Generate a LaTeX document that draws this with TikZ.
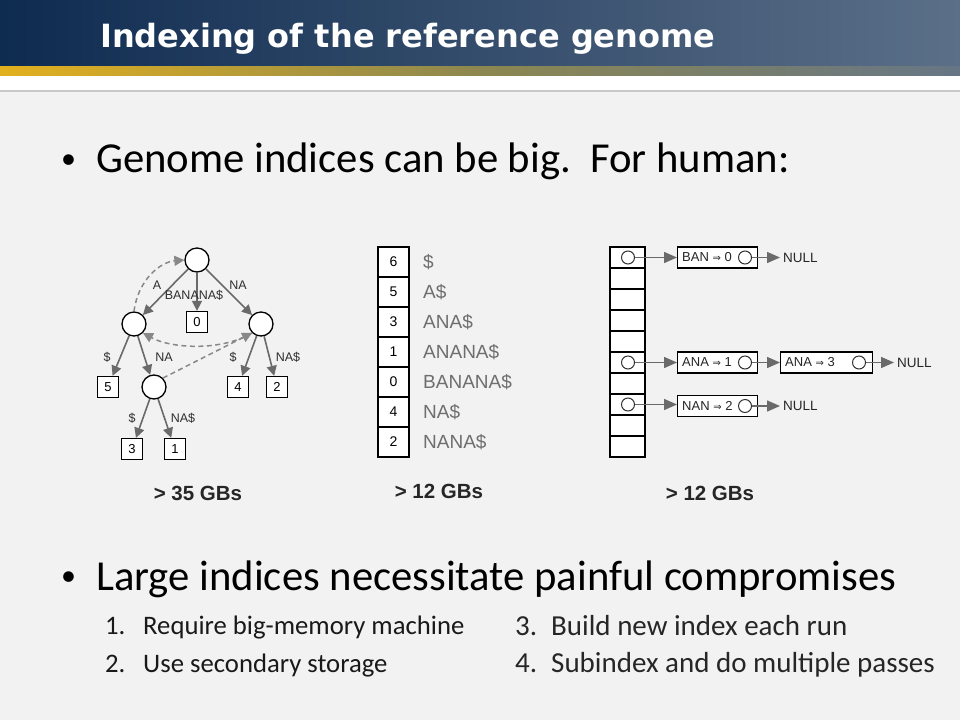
\documentclass[tikz,border=0pt]{standalone}
\usepackage{fontspec}
\setmainfont{Carlito}
\newfontfamily\helv{Liberation Sans}
\newfontfamily\titlefont{DejaVu Sans}
\newfontfamily\symfont{DejaVu Sans}
\usetikzlibrary{arrows.meta}
\definecolor{bg}{HTML}{F2F2F2}
\definecolor{navy}{HTML}{0E2B50}
\definecolor{slate}{HTML}{5B6F88}
\definecolor{gold}{HTML}{E2B01E}
\definecolor{goldmid}{HTML}{8C8750}
\definecolor{goldend}{HTML}{667686}
\definecolor{edgegray}{HTML}{6A6A6A}
\definecolor{labgray}{HTML}{2E2E2E}
\definecolor{sufgray}{HTML}{6E6E6E}
\definecolor{gbtext}{HTML}{262626}
\definecolor{rule}{HTML}{C8C8C8}
\tikzset{
  tnode/.style={circle, draw=black, fill=white, line width=1.3pt, minimum size=24pt, inner sep=0pt},
  leaf/.style={rectangle, draw=black, fill=white, line width=1.3pt, minimum width=21pt, minimum height=21pt, inner sep=0pt, font=\helv\fontsize{13}{13}\selectfont},
  tedge/.style={draw=edgegray, line width=1.6pt, -{Triangle[length=10pt,width=10pt]}},
  sedge/.style={draw=edgegray!80, line width=1.5pt, dash pattern=on 5pt off 3.5pt, -{Triangle[length=10pt,width=10pt]}},
  elabel/.style={font=\helv\fontsize{12.5}{12.5}\selectfont, text=labgray, inner sep=0pt},
  sacell/.style={rectangle, draw=black, fill=white, line width=1.3pt, minimum width=31pt, minimum height=30pt, inner sep=0pt, font=\helv\fontsize{14}{14}\selectfont},
  satext/.style={anchor=west, font=\helv\fontsize{19}{19}\selectfont, text=sufgray, inner sep=0pt},
  htcell/.style={rectangle, draw=black, fill=white, line width=1.3pt, minimum width=35pt, minimum height=21pt, inner sep=0pt},
  ptr/.style={circle, draw=black!80, fill=white, line width=1pt, minimum size=13pt, inner sep=0pt},
  entry/.style={rectangle, draw=black, fill=white, line width=1.3pt, minimum height=21pt, inner sep=0pt, anchor=west},
  etext/.style={anchor=west, font=\helv\fontsize{13}{13}\selectfont, text=black!85, inner sep=0pt},
  parrow/.style={draw=edgegray, line width=1.5pt, -{Triangle[length=13pt,width=11pt]}},
  nulltext/.style={anchor=west, font=\helv\fontsize{13.5}{13.5}\selectfont, text=black!85, inner sep=0pt},
  gb/.style={font=\helv\bfseries\fontsize{20.5}{20.5}\selectfont, text=gbtext, inner sep=0pt},
  bigtext/.style={anchor=base west, font=\fontsize{42.7}{48}\selectfont, inner sep=0pt},
  bul/.style={anchor=base west, font=\fontsize{30}{30}\selectfont, inner sep=0pt},
  subtext/.style={anchor=base west, font=\fontsize{26.7}{30}\selectfont, text=black!90, inner sep=0pt},
  subtextb/.style={anchor=base west, font=\fontsize{29}{30}\selectfont, text=black!85, inner sep=0pt}
}
\begin{document}
\begin{tikzpicture}[x=1pt,y=-1pt]
\useasboundingbox (0,0) rectangle (960,720);
\fill[bg] (0,0) rectangle (960,720);
% header
\shade[left color=navy, right color=slate] (0,0) rectangle (960,67);
\shade[left color=gold, right color=goldend, middle color=goldmid] (0,66) rectangle (960,76);
\fill[white] (0,76) rectangle (960,90);
\draw[rule, line width=1.5pt] (0,91) -- (960,91);
\node[anchor=base west, text=white, inner sep=0pt, font=\titlefont\bfseries\fontsize{32}{36}\selectfont] (title) at (100,47) {Indexing of the reference genome};

% bullets
\node[bul] (dot1) at (61,168) {•};
\node[bigtext] (b1) at (96,172) {Genome indices can be big.\ \ For human:};
\node[bul] (dot2) at (61,585) {•};
\node[bigtext] (b2) at (96,590) {Large indices necessitate painful compromises};

\node[subtext] (n1) at (105,634) {1.};
\node[subtext] (s1) at (143,634) {Require big-memory machine};
\node[subtext] (n2) at (105,672) {2.};
\node[subtext] (s2) at (143,672) {Use secondary storage};
\node[subtextb] (n3) at (515,635) {3.};
\node[subtextb] (s3) at (551,635) {Build new index each run};
\node[subtextb] (n4) at (515,672) {4.};
\node[subtextb] (s4) at (551,672) {Subindex and do multiple passes};

% suffix tree
\node[tnode] (root) at (197,260) {};
\node[tnode] (L) at (134,324) {};
\node[tnode] (R) at (261,324) {};
\node[tnode] (M) at (154,387) {};
\node[leaf] (l0) at (197,322) {0};
\node[leaf] (l5) at (108,387) {5};
\node[leaf] (l4) at (238,387) {4};
\node[leaf] (l2) at (277,387) {2};
\node[leaf] (l3) at (132,449) {3};
\node[leaf] (l1) at (175,449) {1};

\draw[tedge] (root) -- (L);
\draw[tedge] (root) -- (l0);
\draw[tedge] (root) -- (R);
\draw[tedge] (L) -- (l5);
\draw[tedge] (L) -- (M);
\draw[tedge] (R) -- (l4);
\draw[tedge] (R) -- (l2);
\draw[tedge] (M) -- (l3);
\draw[tedge] (M) -- (l1);

\draw[sedge] (L.north) .. controls (138,280) and (160,262) .. (root.west);
\draw[sedge] (R.south west) .. controls (220,352) and (170,348) .. (L.south east);
\draw[sedge] (M.north east) -- (R.south west);

\node[elabel] (tA) at (157,285) {A};
\node[elabel] (tBAN) at (194,295) {BANANA\$};
\node[elabel] (tNA1) at (238,285) {NA};
\node[elabel] (tS1) at (107,357) {\$};
\node[elabel] (tNA2) at (164,357) {NA};
\node[elabel] (tS2) at (233,357) {\$};
\node[elabel] (tNA3) at (288,357) {NA\$};
\node[elabel] (tS3) at (132,418) {\$};
\node[elabel] (tNA4) at (183,418) {NA\$};

% suffix array
\foreach \i/\v in {0/6,1/5,2/3,3/1,4/0,5/4,6/2}{
  \node[sacell] (sa\i) at (393.5,{262+30*\i}) {\v};
}
\node[satext] (t0) at (423,262) {\$};
\node[satext] (t1) at (423,292) {A\$};
\node[satext] (t2) at (423,322) {ANA\$};
\node[satext] (t3) at (423,352) {ANANA\$};
\node[satext] (t4) at (423,382) {BANANA\$};
\node[satext] (t5) at (423,412) {NA\$};
\node[satext] (t6) at (423,442) {NANA\$};

% hash table
\foreach \i in {0,...,9}{
  \node[htcell] (h\i) at (627.5,{257.5+21*\i}) {};
}
\node[ptr] (p0) at (628,257.5) {};
\node[ptr] (p5) at (628,362.5) {};
\node[ptr] (p7) at (628,404.5) {};

\node[entry, minimum width=80pt] (eBAN) at (677,257.5) {};
\node[etext] (xBAN) at (682,257.5) {BAN {\symfont\fontsize{10}{10}\selectfont ⇒} 0};
\node[ptr] (cBAN) at (745,257.5) {};
\node[nulltext] (null1) at (783,257.5) {NULL};

\node[entry, minimum width=80pt] (eANA1) at (677,362.5) {};
\node[etext] (xANA1) at (682,362.5) {ANA {\symfont\fontsize{10}{10}\selectfont ⇒} 1};
\node[ptr] (cANA1) at (745,362.5) {};
\node[entry, minimum width=92pt] (eANA3) at (780,362.5) {};
\node[etext] (xANA3) at (785,362.5) {ANA {\symfont\fontsize{10}{10}\selectfont ⇒} 3};
\node[ptr] (cANA3) at (859,362.5) {};
\node[nulltext] (null2) at (897,362.5) {NULL};

\node[entry, minimum width=80pt] (eNAN) at (677,406) {};
\node[etext] (xNAN) at (682,406) {NAN {\symfont\fontsize{10}{10}\selectfont ⇒} 2};
\node[ptr] (cNAN) at (745,406) {};
\node[nulltext] (null3) at (783,406) {NULL};

\draw[parrow] (p0) -- (eBAN.west);
\draw[parrow] (cBAN) -- ([xshift=-3pt]null1.west);
\draw[parrow] (p5) -- (eANA1.west);
\draw[parrow] (cANA1) -- (eANA3.west);
\draw[parrow] (cANA3) -- ([xshift=-3pt]null2.west);
\draw[parrow] (p7.east) -- (p7.east -| eNAN.west);
\draw[parrow] (cNAN) -- ([xshift=-3pt]null3.west);

% sizes
\node[gb] (gb1) at (198,493) {> 35 GBs};
\node[gb] (gb2) at (439,491) {> 12 GBs};
\node[gb] (gb3) at (710,493) {> 12 GBs};
\end{tikzpicture}
\end{document}
